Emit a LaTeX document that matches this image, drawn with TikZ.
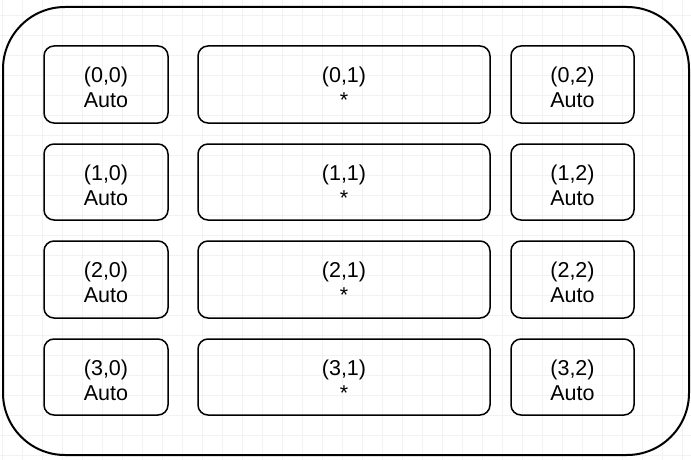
\documentclass[tikz,border=0pt]{standalone}
\usepackage{fontspec}
\setmainfont{Liberation Sans}
\begin{document}
\begin{tikzpicture}[x=1pt,y=-1pt,
  cell/.style={draw=black,line width=1.5pt,rounded corners=10pt,inner sep=0pt},
  celltext/.style={align=center,inner sep=0pt,font=\fontsize{21.5}{25}\selectfont,text=black},
  outer/.style={draw=black,line width=2pt,rounded corners=62pt}]
\useasboundingbox (0,0) rectangle (691,460);
\fill[white] (0,0) rectangle (691,460);
\begin{scope}
\clip (0,0) rectangle (691,460);
\foreach \i in {0,...,35}{\draw[black!5,line width=0.7pt] (2+20*\i,0) -- (2+20*\i,460);}
\foreach \j in {0,...,24}{\draw[black!5,line width=0.7pt] (0,-5+20*\j) -- (691,-5+20*\j);}
\end{scope}
\draw[outer] (3,7) rectangle (689,455);
\foreach \r/\ya/\yb in {0/46/123,1/144/220,2/241/318,3/339/415}{
  \node[cell,minimum width=124pt,minimum height={\yb-\ya}] (c\r0) at (106,{(\ya+\yb)/2}) {};
  \node[celltext] (t\r0) at ([yshift=-3pt]c\r0.center) {(\r,0)\\Auto};
  \node[cell,minimum width=292pt,minimum height={\yb-\ya}] (c\r1) at (344,{(\ya+\yb)/2}) {};
  \node[celltext] (t\r1) at ([yshift=-3pt]c\r1.center) {(\r,1)\\*};
  \node[cell,minimum width=123pt,minimum height={\yb-\ya}] (c\r2) at (572.5,{(\ya+\yb)/2}) {};
  \node[celltext] (t\r2) at ([yshift=-3pt]c\r2.center) {(\r,2)\\Auto};
}
\end{tikzpicture}
\end{document}
